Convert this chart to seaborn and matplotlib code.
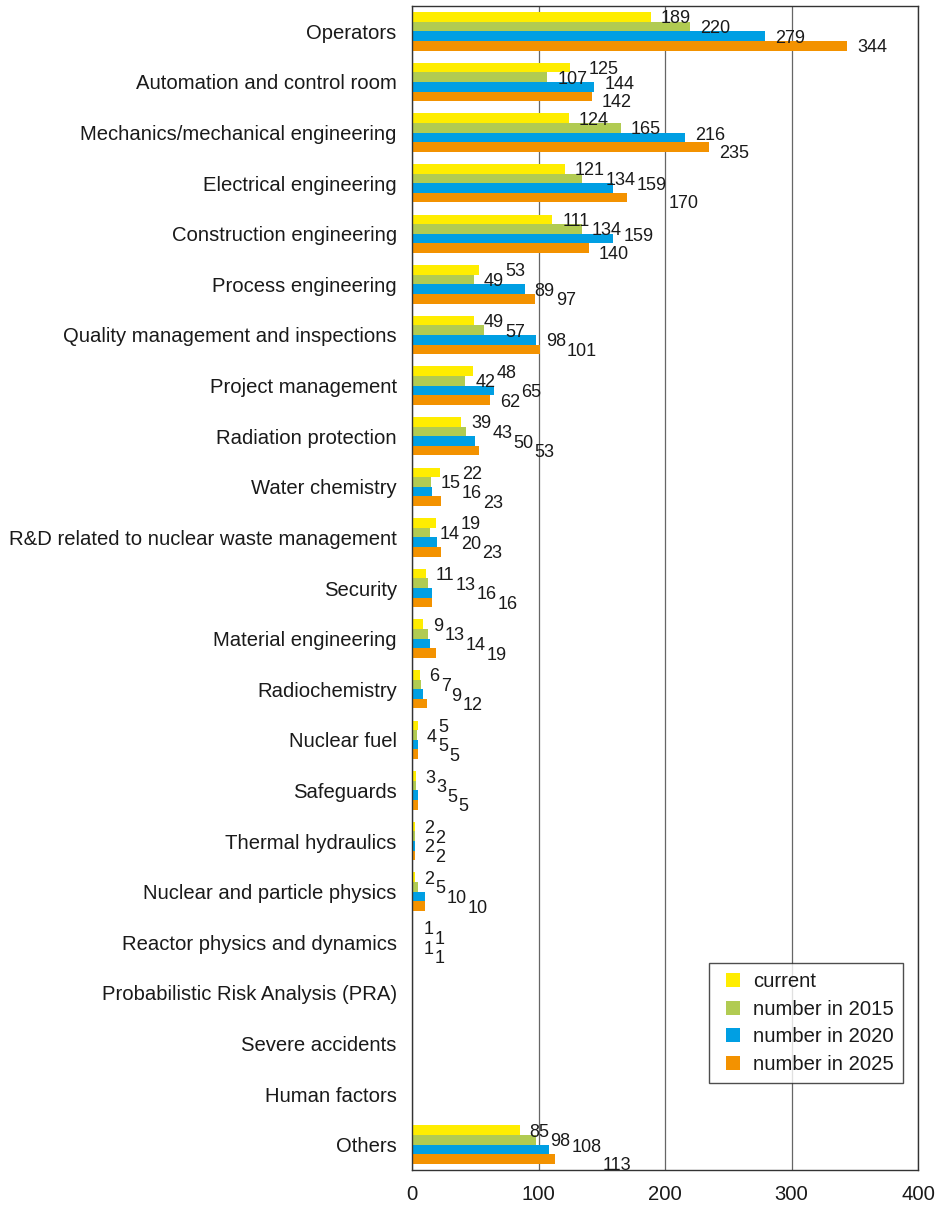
import numpy as np
import pandas as pd
import seaborn as sns
import matplotlib.pyplot as plt
from matplotlib.lines import Line2D

categories = ['Operators', 'Automation and control room', 'Mechanics/mechanical engineering',
              'Electrical engineering', 'Construction engineering', 'Process engineering',
              'Quality management and inspections', 'Project management', 'Radiation protection',
              'Water chemistry', 'R&D related to nuclear waste management', 'Security',
              'Material engineering', 'Radiochemistry', 'Nuclear fuel', 'Safeguards',
              'Thermal hydraulics', 'Nuclear and particle physics', 'Reactor physics and dynamics',
              'Probabilistic Risk Analysis (PRA)', 'Severe accidents', 'Human factors', 'Others']
current = [189, 125, 124, 121, 111, 53, 49, 48, 39, 22, 19, 11, 9, 6, 5, 3, 2, 2, 1, 0, 0, 0, 85]
n2015 = [220, 107, 165, 134, 134, 49, 57, 42, 43, 15, 14, 13, 13, 7, 4, 3, 2, 5, 1, 0, 0, 0, 98]
n2020 = [279, 144, 216, 159, 159, 89, 98, 65, 50, 16, 20, 16, 14, 9, 5, 5, 2, 10, 1, 0, 0, 0, 108]
n2025 = [344, 142, 235, 170, 140, 97, 101, 62, 53, 23, 23, 16, 19, 12, 5, 5, 2, 10, 1, 0, 0, 0, 113]
series = ['current', 'number in 2015', 'number in 2020', 'number in 2025']
colors = ['#FFED00', '#B1CB52', '#009FE3', '#F39200']

rows = []
for name, vals in zip(series, [current, n2015, n2020, n2025]):
    for c, v in zip(categories, vals):
        rows.append({'category': c, 'series': name, 'value': v})
df = pd.DataFrame(rows)

sns.set_style('white')
plt.rcParams['font.family'] = ['Liberation Sans', 'DejaVu Sans']
txt = '#1a1a1a'
fs = 14.6

fig = plt.figure(figsize=(9.4, 12.07), dpi=100)
ax = fig.add_axes([412 / 940, 37 / 1207, 506 / 940, 1164 / 1207])
sns.barplot(data=df, x='value', y='category', hue='series', orient='h', palette=colors,
            saturation=1, width=0.76, linewidth=0, ax=ax)

ax.set_xlim(0, 400)
ax.set_xticks([0, 100, 200, 300, 400])
ax.set_xlabel('')
ax.set_ylabel('')
ax.tick_params(length=0, labelsize=fs, labelcolor=txt)
ax.tick_params(axis='x', pad=11)
ax.tick_params(axis='y', pad=11)
ax.xaxis.grid(True, color='#666666', lw=0.9)
ax.set_axisbelow(True)
for s in ax.spines.values():
    s.set_color('#333333')
    s.set_linewidth(1)

handles = [Line2D([], [], marker='s', linestyle='none', markersize=9.5,
                  markerfacecolor=c, markeredgewidth=0) for c in colors]
leg = ax.legend(handles, series, loc='lower right', bbox_to_anchor=(0.9704, 0.0747),
                borderaxespad=0, frameon=True, fancybox=False, edgecolor='#222222',
                fontsize=fs, handlelength=1.5, handletextpad=0.25, labelspacing=0.42,
                borderpad=0.45)
leg.get_frame().set_linewidth(1)
for t in leg.get_texts():
    t.set_color(txt)

# value labels, nudged so neighbouring labels don't sit on each other
fig.canvas.draw()
r = fig.canvas.get_renderer()
px = ax.transData.transform((1, 0))[0] - ax.transData.transform((0, 0))[0]
gap = 10 / px


def ext(t):
    return t.get_window_extent(r)


def hit(t, u):
    if t is None or u is None:
        return False
    a, b = ext(t), ext(u)
    return a.x0 + 1 < b.x1 and b.x0 + 1 < a.x1


def push(mover, fixed):
    nx = ax.transData.inverted().transform((ext(fixed).x1 + 1, 0))[0]
    mover.set_x(nx)


for i in range(len(categories)):
    labels, vals = [], []
    for k in range(4):
        bar = ax.containers[k][i]
        w = bar.get_width()
        vals.append(w)
        if w == 0:
            labels.append(None)
            continue
        yc = bar.get_y() + bar.get_height() / 2 + 0.04
        labels.append(ax.text(w + gap, yc, f'{w:.0f}', va='center', ha='left',
                              fontsize=13, color=txt))
    t0, t1, t2, t3 = labels
    if hit(t0, t1):
        if vals[1] >= vals[0]:
            push(t1, t0)
        else:
            push(t0, t1)
    if hit(t2, t3):
        if min(vals[2], vals[3]) >= 100:
            t2.set_y(t2.get_position()[1] - 0.08)
            t3.set_y(t3.get_position()[1] + 0.08)
        elif vals[3] >= vals[2]:
            push(t3, t2)
        else:
            push(t2, t3)
    if hit(t1, t2):
        push(t2, t1)
        if hit(t2, t3):
            push(t3, t2)

fig.savefig('out.png', dpi=100)
